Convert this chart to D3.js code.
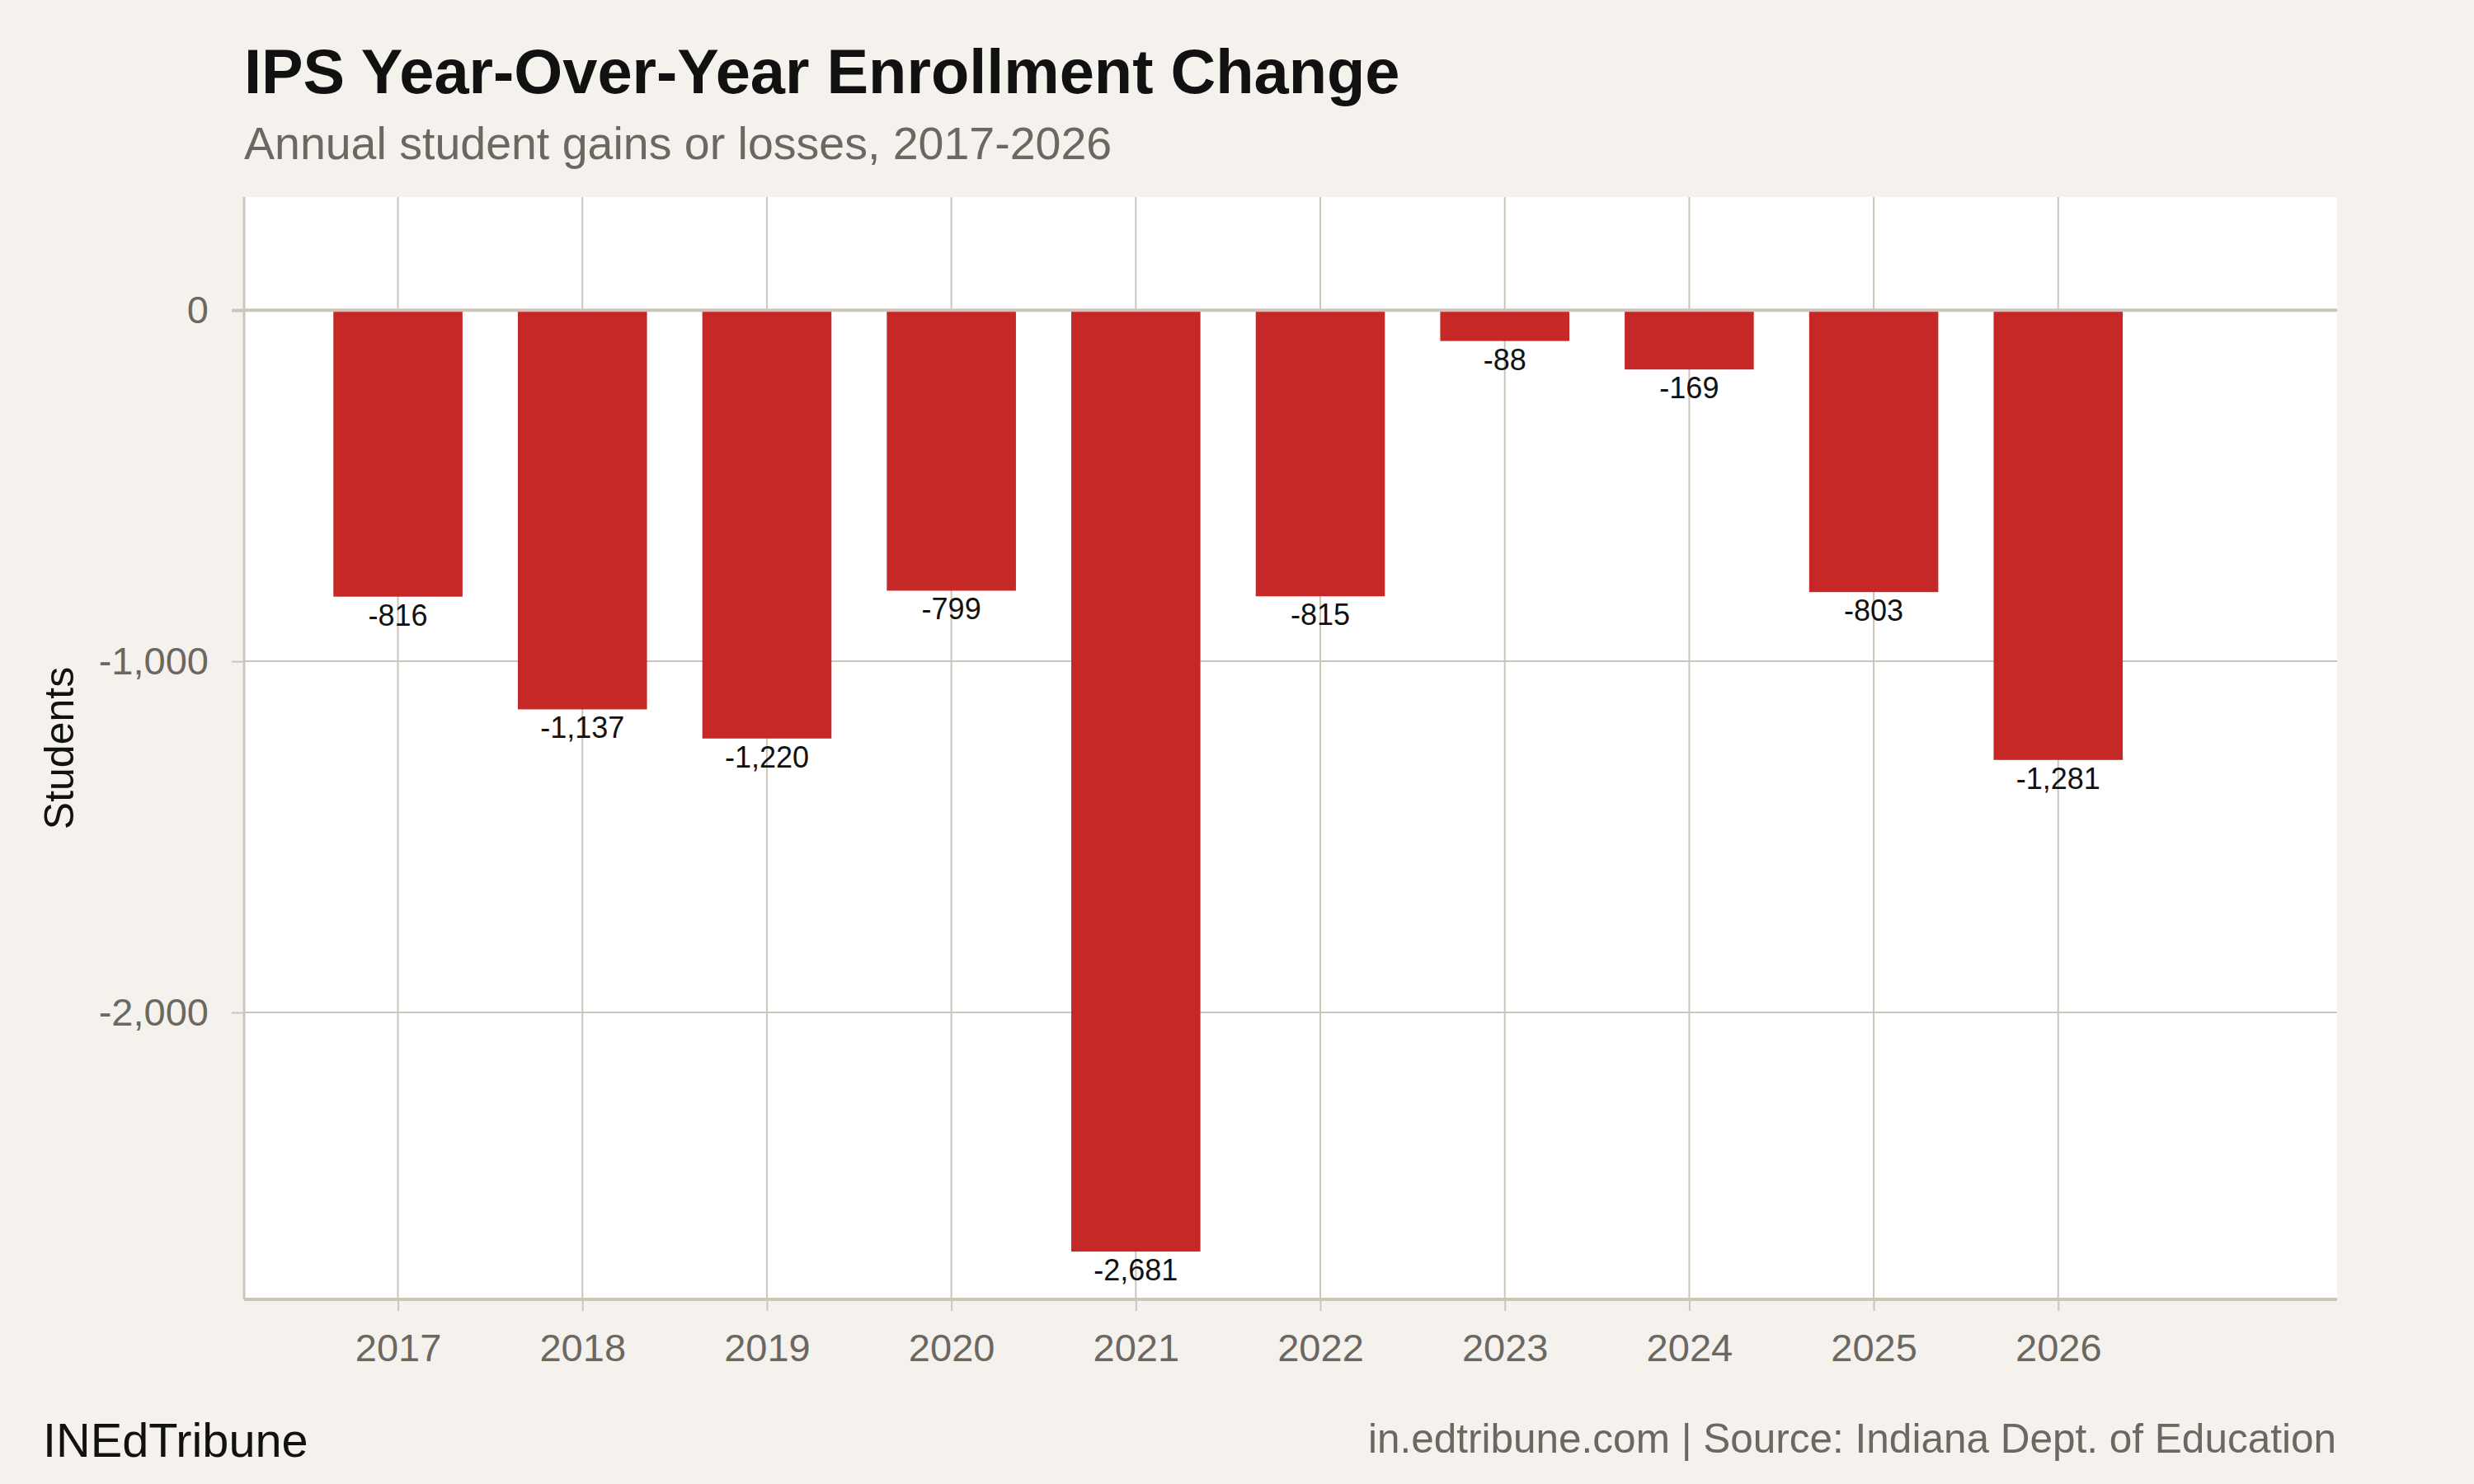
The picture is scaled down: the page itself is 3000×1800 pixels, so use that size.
<!DOCTYPE html>
<html>
<head>
<meta charset="utf-8">
<script src="https://cdn.jsdelivr.net/npm/d3@7"></script>
<style>
  html, body { margin: 0; padding: 0; background: #f5f2ed; }
  svg { display: block; }
  text { font-family: "Liberation Sans", Arial, Helvetica, sans-serif; }
</style>
</head>
<body>
<svg id="chart" width="3000" height="1800"></svg>
<script>
// ---- Data ----
const years = [2017, 2018, 2019, 2020, 2021, 2022, 2023, 2024, 2025, 2026];
const changes = [-816, -1137, -1220, -799, -2681, -815, -88, -169, -803, -1281];
const yTicks = [0, -1000, -2000];
const titleText = "IPS Year-Over-Year Enrollment Change";
const subtitleText = "Annual student gains or losses, 2017-2026";
const yTitle = "Students";
const footLeft = "INEdTribune";
const footRight = "in.edtribune.com | Source: Indiana Dept. of Education";

// ---- Layout ----
const W = 3000, H = 1800;
const panel = { left: 296, right: 2834, top: 239, bottom: 1576 };
const colors = {
  bg: "#f5f2ed", panel: "#ffffff", grid: "#cbc5ba", bar: "#c62828",
  ink: "#111111", gray: "#6b6761"
};

const loc = d3.formatLocale({ decimal: ".", thousands: ",", grouping: [3], currency: ["$", ""], minus: "-" });
const fmt = loc.format(",");

const x = d3.scaleLinear().domain([2016.166, 2027.512]).range([panel.left, panel.right]);
const y = d3.scaleLinear().domain([-2817, 322]).range([panel.bottom, panel.top]);
const barW = x(2017.7) - x(2017);

const svg = d3.select("#chart");
svg.append("rect").attr("width", W).attr("height", H).attr("fill", colors.bg);

// panel
svg.append("rect")
  .attr("x", panel.left).attr("y", panel.top)
  .attr("width", panel.right - panel.left).attr("height", panel.bottom - panel.top)
  .attr("fill", colors.panel);

// vertical gridlines
svg.append("g").selectAll("line").data(years).join("line")
  .attr("x1", d => x(d)).attr("x2", d => x(d))
  .attr("y1", panel.top).attr("y2", panel.bottom)
  .attr("stroke", colors.grid).attr("stroke-width", 2);

// horizontal gridlines (non-zero)
svg.append("g").selectAll("line").data(yTicks.filter(d => d !== 0)).join("line")
  .attr("x1", panel.left).attr("x2", panel.right)
  .attr("y1", d => y(d)).attr("y2", d => y(d))
  .attr("stroke", colors.grid).attr("stroke-width", 2);

// bars
const data = years.map((yr, i) => ({ year: yr, value: changes[i] }));
svg.append("g").selectAll("rect").data(data).join("rect")
  .attr("x", d => x(d.year) - barW / 2)
  .attr("width", barW)
  .attr("y", d => Math.min(y(0), y(d.value)))
  .attr("height", d => Math.abs(y(d.value) - y(0)))
  .attr("fill", colors.bar);

// zero line
svg.append("line")
  .attr("x1", panel.left).attr("x2", panel.right)
  .attr("y1", y(0)).attr("y2", y(0))
  .attr("stroke", colors.grid).attr("stroke-width", 4);

// bar labels
svg.append("g").selectAll("text").data(data).join("text")
  .attr("x", d => x(d.year))
  .attr("y", d => y(d.value) + 35)
  .attr("text-anchor", "middle")
  .attr("font-size", 36)
  .attr("fill", colors.ink)
  .text(d => fmt(d.value));

// left axis
const yAxis = d3.axisLeft(y).tickValues(yTicks).tickSize(15).tickPadding(28).tickFormat(fmt);
const gy = svg.append("g").attr("transform", `translate(${panel.left},0)`).call(yAxis);
gy.attr("font-family", null).attr("font-size", null);
gy.select(".domain").remove();
gy.selectAll(".tick line").attr("stroke", colors.grid).attr("stroke-width", d => d === 0 ? 4 : 2);
gy.selectAll(".tick text").attr("fill", colors.gray).attr("font-size", 47);
svg.append("line")
  .attr("x1", panel.left).attr("x2", panel.left)
  .attr("y1", panel.top).attr("y2", panel.bottom)
  .attr("stroke", colors.grid).attr("stroke-width", 3);

// bottom axis
const xAxis = d3.axisBottom(x).tickValues(years).tickSize(14).tickPadding(28).tickFormat(d3.format("d"));
const gx = svg.append("g").attr("transform", `translate(0,${panel.bottom})`).call(xAxis);
gx.attr("font-family", null).attr("font-size", null);
gx.select(".domain").remove();
gx.selectAll(".tick line").attr("stroke", colors.grid).attr("stroke-width", 2);
gx.selectAll(".tick text").attr("fill", colors.gray).attr("font-size", 47);
svg.append("line")
  .attr("x1", panel.left).attr("x2", panel.right)
  .attr("y1", panel.bottom).attr("y2", panel.bottom)
  .attr("stroke", colors.grid).attr("stroke-width", 4);

// y title
svg.append("text")
  .attr("transform", `translate(89,${(panel.top + panel.bottom) / 2}) rotate(-90)`)
  .attr("text-anchor", "middle")
  .attr("font-size", 50)
  .attr("fill", colors.ink)
  .text(yTitle);

// titles
svg.append("text").attr("x", 296).attr("y", 113)
  .attr("font-size", 75.8).attr("font-weight", "bold").attr("fill", colors.ink)
  .text(titleText);
svg.append("text").attr("x", 296).attr("y", 193)
  .attr("font-size", 55.5).attr("fill", colors.gray)
  .text(subtitleText);

// footer
svg.append("text").attr("x", 52).attr("y", 1767)
  .attr("font-size", 57.7).attr("fill", colors.ink)
  .text(footLeft);
svg.append("text").attr("x", 2833).attr("y", 1762)
  .attr("text-anchor", "end")
  .attr("font-size", 49.5).attr("fill", colors.gray)
  .text(footRight);
</script>
</body>
</html>
